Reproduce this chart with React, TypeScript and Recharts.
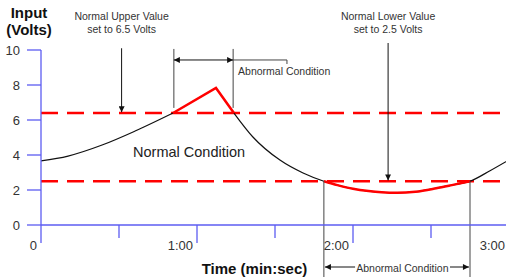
import { LineChart, Line, XAxis, YAxis, ReferenceLine, ReferenceDot } from "recharts"

// signal (time in seconds, input in volts)
const time = [0, 10.4, 23.5, 36.2, 50.8, 67.3, 74.2, 81.5, 91.9, 100.8, 108.8, 114, 120, 126, 131, 137, 144, 152, 158, 165, 172.7, 180]
const volts = [3.66, 3.94, 4.57, 5.37, 6.4, 7.83, 6.4, 5.03, 3.71, 2.97, 2.5, 2.28, 2.07, 1.94, 1.87, 1.84, 1.9, 2.1, 2.28, 2.5, 3.1, 3.72]

// limits as drawn (the upper one is labelled 6.5 but sits at ~6.4)
const upperLimit = 6.4
const lowerLimit = 2.5

const xTicks = [0, 30, 60, 90, 120, 150, 180]
const xTickLabels = ["0", "", "1:00", "", "2:00", "", "3:00"]
const yTicks = [0, 2, 4, 6, 8, 10]

// index ranges of the curve pieces: black inside the limits, red outside
const pieces: Record<string, [number, number]> = {
  black1: [0, 4],
  red1: [4, 6],
  black2: [6, 21],
  red2: [10, 19],
}

const data = time.map((t, i) => {
  const row: Record<string, number | null> = { t }
  for (const key of Object.keys(pieces)) {
    const [a, b] = pieces[key]
    row[key] = i >= a && i <= b ? volts[i] : null
  }
  return row
})

const upStart = time[4]
const upEnd = time[6]
const lowStart = time[10]
const lowEnd = time[19]

const BLUE = "#5c5cf2"
const FONT = '"Liberation Sans", Arial, sans-serif'

function XTick({ x, y, payload }: any) {
  // use the real tick position, recharts nudges the last one to keep its text inside
  const cx = payload.coordinate ?? x
  const label = xTickLabels[xTicks.indexOf(payload.value)] ?? ""
  const major = label !== ""
  return (
    <g>
      <line x1={cx} y1={y} x2={cx} y2={y + (major ? 18 : 13)} stroke={BLUE} strokeWidth={1.3} />
      {major && (
        <text x={cx - 4} y={y + 20} textAnchor="end" dominantBaseline="central" fontSize={13} fill="#333" fontFamily={FONT}>
          {label}
        </text>
      )}
    </g>
  )
}

function YTick({ x, y, payload }: any) {
  const cy = payload.coordinate ?? y
  return (
    <g>
      <line x1={x - 14} y1={cy} x2={x} y2={cy} stroke={BLUE} strokeWidth={1.3} />
      <text x={x - 21} y={cy} textAnchor="end" dominantBaseline="central" fontSize={13} fill="#333" fontFamily={FONT}>
        {payload.value}
      </text>
    </g>
  )
}

const seg = (key: string, x1: number, y1: number, x2: number, y2: number, opts: any = {}) => (
  <ReferenceLine
    key={key}
    segment={[{ x: x1, y: y1 }, { x: x2, y: y2 }]}
    ifOverflow="visible"
    shape={(p: any) => (
      <line
        x1={p.x1}
        y1={p.y1}
        x2={p.x2}
        y2={p.y2}
        stroke={opts.stroke ?? "#444"}
        strokeWidth={opts.width ?? 1}
        markerEnd={opts.end ? "url(#arrowHead)" : undefined}
        markerStart={opts.start ? "url(#arrowHead)" : undefined}
      />
    )}
  />
)

const note = (key: string, x: number, y: number, text: string, opts: any = {}) => (
  <ReferenceDot
    key={key}
    x={x}
    y={y}
    r={0}
    ifOverflow="visible"
    shape={(p: any) => (
      <text
        x={p.cx}
        y={p.cy}
        textAnchor={opts.anchor ?? "middle"}
        dominantBaseline="central"
        fontSize={opts.size ?? 10.5}
        fontWeight={opts.bold ? "bold" : "normal"}
        fill={opts.fill ?? "#333"}
        fontFamily={FONT}
      >
        {text}
      </text>
    )}
  />
)

export default function App() {
  return (
    <div
      style={{
        position: "absolute",
        left: 0,
        top: 0,
        width: 506,
        height: 277,
        overflow: "hidden",
        fontFamily: FONT,
        background: "#fff",
      }}
    >
      <svg width={0} height={0} style={{ position: "absolute" }}>
        <defs>
          <marker
            id="arrowHead"
            viewBox="0 0 10 10"
            refX={10}
            refY={5}
            markerWidth={7}
            markerHeight={6}
            markerUnits="userSpaceOnUse"
            orient="auto-start-reverse"
          >
            <path d="M0,0 L10,5 L0,10 z" fill="#111" />
          </marker>
        </defs>
      </svg>
      {/* the 3:00 tick sits just past the right edge, so the chart is a little wider than the frame */}
      <LineChart width={509} height={277} data={data} margin={{ top: 50, right: 0, bottom: 0, left: 0 }}>
        <XAxis
          type="number"
          dataKey="t"
          domain={[0, 180]}
          ticks={xTicks}
          interval={0}
          height={52}
          tickSize={0}
          tickMargin={0}
          tickLine={false}
          tick={<XTick />}
          axisLine={{ stroke: BLUE, strokeWidth: 1.3 }}
        />
        <YAxis
          type="number"
          domain={[0, 10]}
          ticks={yTicks}
          interval={0}
          width={41}
          tickSize={0}
          tickMargin={0}
          tickLine={false}
          tick={<YTick />}
          axisLine={{ stroke: BLUE, strokeWidth: 1.3 }}
        />
        <ReferenceLine y={upperLimit} stroke="#ff0000" strokeWidth={2.5} strokeDasharray="17 9" />
        <ReferenceLine y={lowerLimit} stroke="#ff0000" strokeWidth={2.5} strokeDasharray="17 9" />

        <Line dataKey="black1" type="monotone" stroke="#111" strokeWidth={1.2} dot={false} connectNulls={false} isAnimationActive={false} />
        <Line dataKey="black2" type="monotone" stroke="#111" strokeWidth={1.2} dot={false} connectNulls={false} isAnimationActive={false} />
        <Line dataKey="red1" type="linear" stroke="#ff0000" strokeWidth={2.5} dot={false} connectNulls={false} isAnimationActive={false} />
        <Line dataKey="red2" type="monotone" stroke="#ff0000" strokeWidth={2.5} dot={false} connectNulls={false} isAnimationActive={false} />

        {/* upper limit note */}
        {seg("upArrow", 31, 10.1, 31, upperLimit + 0.05, { stroke: "#111", end: true })}
        {note("upT1", 31, 11.94, "Normal Upper Value")}
        {note("upT2", 31, 11.2, "set to 6.5 Volts")}

        {/* lower limit note */}
        {seg("lowArrow", 133.5, 10.4, 133.5, lowerLimit + 0.05, { stroke: "#111", end: true })}
        {note("lowT1", 133.5, 11.94, "Normal Lower Value")}
        {note("lowT2", 133.5, 11.2, "set to 2.5 Volts")}

        {/* abnormal span above */}
        {seg("upV1", upStart + 0.3, 10.06, upStart + 0.3, 6.69)}
        {seg("upV2", upEnd - 0.3, 10.06, upEnd - 0.3, 6.69)}
        {seg("upSpan", upStart + 0.3, 9.43, upEnd - 0.3, 9.43, { stroke: "#111", start: true, end: true })}
        {seg("upTail", upEnd - 0.3, 9.43, 94.6, 9.43)}
        {seg("upTailEnd", 94.6, 9.43, 94.6, 9.2)}
        {note("upAbn", 75.8, 8.8, "Abnormal Condition", { anchor: "start" })}

        {/* abnormal span below */}
        {seg("lowV1", lowStart, lowerLimit, lowStart, -3.2)}
        {seg("lowV2", lowEnd, lowerLimit, lowEnd, -3.2)}
        {seg("lowArrL", 120.8, -2.4, lowStart + 0.4, -2.4, { stroke: "#111", end: true })}
        {seg("lowArrR", 157.3, -2.4, lowEnd - 0.4, -2.4, { stroke: "#111", end: true })}
        {note("lowAbn", 139, -2.43, "Abnormal Condition")}

        {note("normal", 35.4, 4.17, "Normal Condition", { anchor: "start", size: 14.5, fill: "#222" })}

        {/* axis titles */}
        {note("yT1", -4.6, 12.17, "Input", { size: 15, bold: true, fill: "#111" })}
        {note("yT2", -4.6, 11.2, "(Volts)", { size: 15, bold: true, fill: "#111" })}
        {note("xT", 82.1, -2.46, "Time (min:sec)", { size: 15, bold: true, fill: "#111" })}
      </LineChart>
    </div>
  )
}
